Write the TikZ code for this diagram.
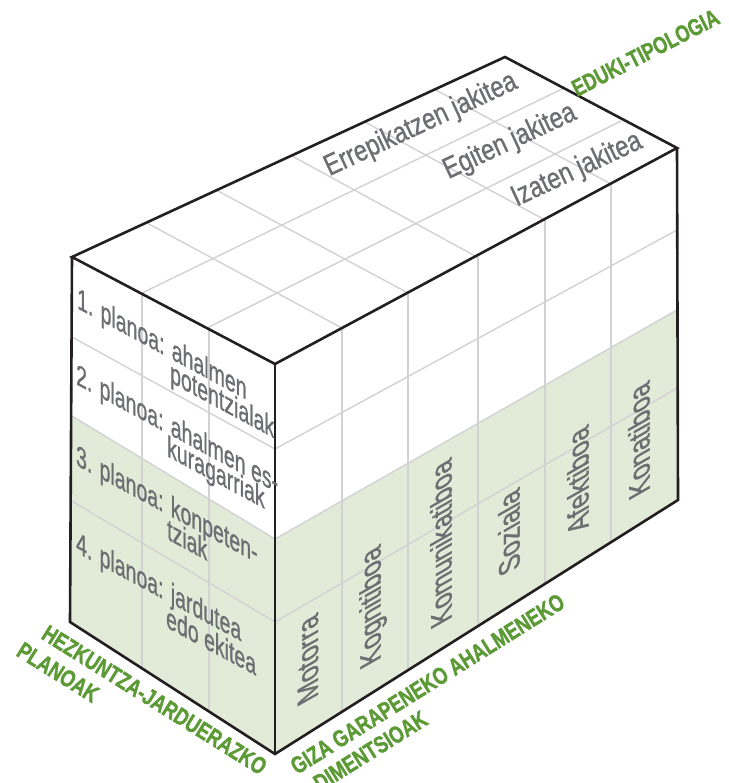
\documentclass[tikz,border=0pt]{standalone}
\usepackage{fontspec}
\setmainfont{Liberation Sans}
\newfontfamily\facefont[FakeBold=1]{Liberation Sans}
\newfontfamily\axisfont[FakeBold=1.6]{Liberation Sans Bold}
\definecolor{facegreen}{HTML}{E2EAD8}
\definecolor{gridgray}{HTML}{D2D2D4}
\definecolor{edgeblack}{HTML}{231F20}
\definecolor{labelgray}{HTML}{6D6E71}
\definecolor{axisgreen}{HTML}{5B9A35}
\begin{document}
\begin{tikzpicture}[x=1pt,y=-1pt,
  gridline/.style={draw=gridgray, line width=1.4pt},
  edgeline/.style={draw=edgeblack, line width=2.6pt, line join=miter},
  facetext/.style={text=labelgray, inner sep=0pt, font=\facefont\fontsize{26}{26}\selectfont},
  lefttext/.style={facetext, cm={0.75,-0.405,0,1.14,(0,0)}, anchor=base west},
  righttext/.style={facetext, cm={0,0.946,-1.14,-0.65,(0,0)}, anchor=center},
  toptext/.style={facetext, cm={0.829,0.387,-0.48,1.03,(0,0)}, anchor=center},
  axistext/.style={text=axisgreen, inner sep=0pt, font=\axisfont\fontsize{23}{23}\selectfont, anchor=base west},
  axistop/.style={axistext, cm={0.700,0.360,-0.465,0.915,(0,0)}},
  axisleft/.style={axistext, cm={0.678,-0.424,0.546,0.873,(0,0)}},
  axisright/.style={axistext, cm={0.678,0.424,-0.546,0.873,(0,0)}}]
\useasboundingbox (0,0) rectangle (728,783);

% box corners
\coordinate (A) at (72,257);
\coordinate (B) at (275,364);
\coordinate (C) at (677,148);
\coordinate (D) at (505,57);
\coordinate (E) at (70,622);
\coordinate (F) at (275,754);
\coordinate (G) at (678,500);

% shaded lower planes
\fill[facegreen] (72,416) -- (275,539) -- (F) -- (E) -- cycle;
\fill[facegreen] (275,539) -- (677,310) -- (G) -- (F) -- cycle;

% left face grid
\draw[gridline] (72,337) -- (275,449);
\draw[gridline] (72,416) -- (275,539);
\draw[gridline] (70,500) -- (275,622);
\draw[gridline] (142,293) -- (142,668);
\draw[gridline] (209,327) -- (209,711);

% right face grid
\draw[gridline] (275,449) -- (677,230);
\draw[gridline] (275,539) -- (677,310);
\draw[gridline] (275,622) -- (677,388);
\draw[gridline] (342,328) -- (342,712);
\draw[gridline] (408,293) -- (408,670);
\draw[gridline] (478,257) -- (478,626);
\draw[gridline] (545,220) -- (545,584);
\draw[gridline] (611,184) -- (611,542);

% top face grid
\draw[gridline] (342,328) -- (147,223);
\draw[gridline] (408,293) -- (218,191);
\draw[gridline] (477,257) -- (292,156);
\draw[gridline] (545,220) -- (365,122);
\draw[gridline] (611,184) -- (434,89);
\draw[gridline] (142,293) -- (564,88);
\draw[gridline] (209,327) -- (621,121);

% outline of the box
\draw[edgeline] (A) -- (B) -- (C) -- (D) -- cycle;
\draw[edgeline] (A) -- (E) -- (F) -- (G) -- (C);
\draw[edgeline] (B) -- (F);

% educational planes (left face)
\node[lefttext] (p1a) at (77,308) {1. planoa: ahalmen};
\node[lefttext] (p1b) at (170,382) {potentzialak};
\node[lefttext] (p2a) at (76,384) {2. planoa: ahalmen es-};
\node[lefttext] (p2b) at (167,456) {kuragarriak};
\node[lefttext] (p3a) at (76,465) {3. planoa: konpeten-};
\node[lefttext] (p3b) at (167,539) {tziak};
\node[lefttext] (p4a) at (76,552) {4. planoa: jardutea};
\node[lefttext] (p4b) at (166,627) {edo ekitea};

% content types (top face)
\node[toptext] (t1) at (421,125) {Errepikatzen jakitea};
\node[toptext] (t2) at (510,142) {Egiten jakitea};
\node[toptext] (t3) at (577,170) {Izaten jakitea};

% development dimensions (right face)
\node[righttext] (d1) at (308,660) {Motorra};
\node[righttext] (d2) at (373,606) {Kognitiboa};
\node[righttext] (d3) at (441,544) {Komunikatiboa};
\node[righttext] (d4) at (509,533) {Soziala};
\node[righttext] (d5) at (578,481) {Afektiboa};
\node[righttext] (d6) at (639,441) {Konatiboa};

% axis titles
\node[axistop] (ax1) at (577,97) {EDUKI-TIPOLOGIA};
\node[axisleft] (ax2a) at (40,638) {HEZKUNTZA-JARDUERAZKO};
\node[axisleft] (ax2b) at (15,655) {PLANOAK};
\node[axisright] (ax3a) at (297,775) {GIZA GARAPENEKO AHALMENEKO};
\node[axisright] (ax3b) at (320,792) {DIMENTSIOAK};
\end{tikzpicture}
\end{document}
